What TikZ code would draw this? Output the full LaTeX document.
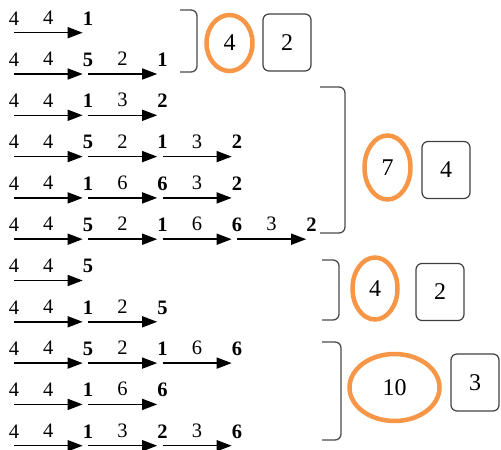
\documentclass[tikz,border=0pt]{standalone}
\usepackage{fontspec}
\setmainfont{Liberation Serif}
\usetikzlibrary{arrows.meta,shapes.geometric}
\definecolor{ringorange}{HTML}{F79646}

\begin{document}
\begin{tikzpicture}[x=1pt,y=-1pt,
    src/.style={inner sep=0pt,anchor=base,text depth=7.5pt,font=\fontsize{20.5}{20.5}\selectfont},
    vtx/.style={src,font=\fontsize{20.5}{20.5}\selectfont\bfseries},
    wt/.style={inner sep=0pt,above=7.5pt,font=\fontsize{20.5}{20.5}\selectfont},
    hop/.style={line width=1.5pt,-{Triangle[length=15pt,width=11pt]}},
    brk/.style={draw=black!70,line width=1.3pt,rounded corners=6pt},
    ring/.style={ellipse,draw=ringorange,line width=4.5pt,inner sep=0pt,font=\fontsize{24}{24}\selectfont},
    tally/.style={draw=black!75,line width=1.2pt,rounded corners=6pt,inner sep=0pt,
      minimum width=48pt,minimum height=57pt,font=\fontsize{24}{24}\selectfont}]
  \useasboundingbox (0,0) rectangle (501,450);

  % paths: start 4, then weight/node pairs
  \foreach \row [count=\i] in {{4/1},{4/5,2/1},{4/1,3/2},{4/5,2/1,3/2},{4/1,6/6,3/2},
      {4/5,2/1,6/6,3/2},{4/5},{4/1,2/5},{4/5,2/1,6/6},{4/1,6/6},{4/1,3/2,3/6}} {
    \node[src] (r\i-0) at (14,{25+41.3*(\i-1)}) {4};
    \foreach \w/\v [count=\j] in \row {
      \pgfmathtruncatemacro{\k}{\j-1}
      \node[vtx] (r\i-\j) at ({13.5+74.5*\j},{25+41.3*(\i-1)}) {\v};
      \draw[hop] (r\i-\k.south) -- node[wt] {\w} (r\i-\j.south west);
    }
  }

  % groups
  \draw[brk] (180,10) -- (197,10) -- (197,72) -- (180,72);
  \draw[brk] (320,87) -- (345,87) -- (345,233) -- (320,233);
  \draw[brk] (322,260) -- (339,260) -- (339,320) -- (322,320);
  \draw[brk] (322,342) -- (341,342) -- (341,440) -- (322,440);

  \node[ring,minimum width=46pt,minimum height=56pt] (e1) at (229.5,43)  {4};
  \node[ring,minimum width=46pt,minimum height=64pt] (e2) at (387.5,167.5) {7};
  \node[ring,minimum width=45pt,minimum height=62pt] (e3) at (375,288.5) {4};
  \node[ring,minimum width=90pt,minimum height=67pt] (e4) at (394.5,387.5) {10};

  \node[tally] (b1) at (287,42.5) {2};
  \node[tally] (b2) at (446,170)  {4};
  \node[tally] (b3) at (440,292)  {2};
  \node[tally] (b4) at (475,382.5) {3};
\end{tikzpicture}
\end{document}
